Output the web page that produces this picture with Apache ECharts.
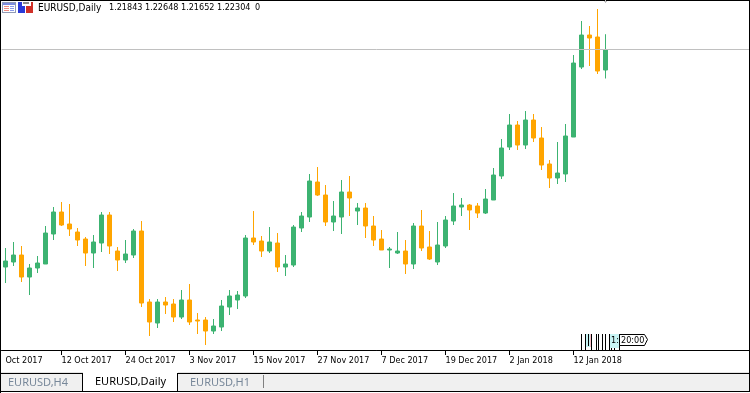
<!DOCTYPE html>
<html><head><meta charset="utf-8">
<style>html,body{margin:0;padding:0;background:#fff}#c{width:750px;height:393px}</style>
<script src="https://cdn.jsdelivr.net/npm/echarts@6/dist/echarts.min.js"></script>
</head><body><div id="c"></div>
<script>
const opens=[1.17410,1.17523,1.17680,1.17185,1.17388,1.17478,1.18153,1.18648,1.18378,1.18198,1.18040,1.17725,1.17950,1.18580,1.17770,1.17568,1.17680,1.18220,1.16623,1.16150,1.16623,1.16578,1.16285,1.16668,1.16218,1.16218,1.15970,1.16060,1.16510,1.16668,1.16758,1.18063,1.17995,1.17770,1.17950,1.17410,1.17455,1.18288,1.18535,1.19323,1.19030,1.18423,1.18535,1.19098,1.18670,1.18738,1.18333,1.18040,1.17793,1.17725,1.17770,1.17478,1.18333,1.17860,1.17523,1.17883,1.18445,1.18760,1.18805,1.18783,1.18625,1.18918,1.19458,1.20110,1.20605,1.20155,1.20718,1.20313,1.19728,1.19413,1.19503,1.20335,1.21910,1.22630,1.22585,1.21843];
const closes=[1.17545,1.17680,1.17185,1.17388,1.17500,1.18175,1.18648,1.18355,1.18265,1.18018,1.17725,1.17973,1.18580,1.17883,1.17568,1.17703,1.18220,1.16600,1.16173,1.16623,1.16555,1.16285,1.16668,1.16173,1.16195,1.15970,1.16083,1.16533,1.16758,1.16780,1.18063,1.17973,1.17770,1.17973,1.17410,1.17478,1.18310,1.18558,1.19345,1.19030,1.18423,1.18558,1.19098,1.18963,1.18738,1.18333,1.18018,1.17793,1.17815,1.17770,1.17478,1.18333,1.17838,1.17590,1.17905,1.18468,1.18783,1.18805,1.18693,1.18625,1.18940,1.19480,1.20088,1.20605,1.20155,1.20718,1.20313,1.19705,1.19413,1.19525,1.20358,1.22000,1.22630,1.22563,1.21820,1.22304];
const lows=[1.17050,1.17433,1.17073,1.16780,1.17275,1.17478,1.18018,1.18333,1.18108,1.17883,1.17433,1.17388,1.17748,1.17703,1.17320,1.17500,1.17613,1.16510,1.15858,1.16038,1.16353,1.16173,1.16240,1.16105,1.15903,1.15655,1.15903,1.15970,1.16330,1.16465,1.16713,1.17905,1.17635,1.17725,1.17298,1.17208,1.17410,1.18198,1.18423,1.19008,1.18333,1.18220,1.18153,1.18558,1.18355,1.18063,1.17883,1.17793,1.17388,1.17703,1.17253,1.17365,1.17770,1.17568,1.17455,1.17838,1.18355,1.18558,1.18243,1.18513,1.18603,1.18918,1.19390,1.20043,1.20043,1.20065,1.20223,1.19593,1.19188,1.19278,1.19323,1.20335,1.21865,1.21933,1.21753,1.21652];
const highs=[1.17838,1.17973,1.17883,1.17478,1.17658,1.18333,1.18760,1.18873,1.18828,1.18288,1.18085,1.18130,1.18648,1.18648,1.17860,1.18018,1.18265,1.18445,1.16690,1.16690,1.16735,1.16690,1.16893,1.17028,1.16375,1.16285,1.16240,1.16668,1.16893,1.16870,1.18130,1.18670,1.18108,1.18310,1.18175,1.17680,1.18355,1.18648,1.19503,1.19660,1.19255,1.18895,1.19368,1.19458,1.18850,1.18850,1.18558,1.18243,1.17860,1.18198,1.18018,1.18400,1.18693,1.18220,1.18423,1.18558,1.19075,1.18963,1.18828,1.18850,1.19165,1.19638,1.20290,1.20853,1.20695,1.20920,1.20853,1.20560,1.19818,1.20223,1.20628,1.22180,1.22945,1.22833,1.23215,1.22648];
const tickIndexes=[7,15,23,31,39,47,55,63,71];
const tickLabels=['12 Oct 2017','24 Oct 2017','3 Nov 2017','15 Nov 2017','27 Nov 2017','7 Dec 2017','19 Dec 2017','2 Jan 2018','12 Jan 2018'];
const firstLabel='Oct 2017';
const symbol='EURUSD,Daily';
const ohlcText=['1.21843','1.22648','1.21652','1.22304'];
const tabs=['EURUSD,H4','EURUSD,Daily','EURUSD,H1'];
const lastClose=1.22304, slotCount=94, priceMin=1.15543, priceMax=1.23418;

const categories=Array.from({length:slotCount},(_,i)=>i===0?firstLabel:(tickIndexes.includes(i)?tickLabels[tickIndexes.indexOf(i)]:''));
const rows=opens.map((o,i)=>[o,closes[i],lows[i],highs[i]]);
const F='"DejaVu Sans Condensed","DejaVu Sans",sans-serif';
const T='"Noto Sans",sans-serif';
const rect=(x,y,w,h,fill,z)=>({type:'rect',silent:true,z:z||10,shape:{x,y,width:w,height:h},style:{fill}});
const txt=(x,y,t,size,fill,font,z)=>({type:'text',silent:true,z:z||11,x,y,style:{text:t,fill,font:size+'px '+font,textVerticalAlign:'middle',textAlign:'left'}});
const g=[
 rect(0,0,750,1,'#000'),rect(0,0,1,393,'#000'),rect(749,0,1,392,'#000'),
 rect(2,2,14,11,'#8f9ab5'),rect(3,3,12,9,'#fff'),rect(3,3,12,2,'#7c8ce0'),
 rect(4,6,5,1,'#f08a80'),rect(4,8,5,1,'#f08a80'),rect(4,10,5,1,'#f08a80'),rect(10,6,4,1,'#8a9ae8'),rect(10,8,4,1,'#8a9ae8'),rect(10,10,4,1,'#8a9ae8'),
 rect(18,2,7,11,'#2a3ad8'),rect(26,2,7,11,'#d03028'),rect(22,2,9,4,'#fff'),rect(23,2,6,2,'#8a8a8a'),
 txt(38,8,symbol,10,'#000',F),
 txt(109,8,ohlcText[0],9,'#000',F),txt(145,8,ohlcText[1],9,'#000',F),txt(181,8,ohlcText[2],9,'#000',F),txt(217,8,ohlcText[3],9,'#000',F),txt(255,8,'0',9,'#000',F),
 rect(605,0,1,3,'#c0c0c0'),rect(604,1,3,1,'#c0c0c0'),
 rect(586,334,4,13,'#c8f4f4'),rect(590,334,1,13,'#f8c0c8'),rect(610,334,9,14,'#c8f4f4'),
 rect(581,334,1,16,'#000'),rect(585,334,1,16,'#000'),rect(588,334,1,12,'#000'),rect(591,334,1,16,'#000'),rect(596,334,1,16,'#000'),rect(598,334,1,16,'#000'),rect(602,334,1,16,'#000'),rect(605,334,1,16,'#000'),
 rect(609,334,1,16,'#000'),rect(619,334,1,16,'#000'),rect(611,348,1,2,'#000'),rect(614,348,1,2,'#000'),
 txt(611,340.5,'1:',9,'#000',F),
 {type:'polygon',silent:true,z:10,shape:{points:[[619.5,334.5],[644.5,334.5],[647.5,339.5],[644.5,345.5],[619.5,345.5]]},style:{fill:'#fff',stroke:'#000',lineWidth:1}},
 txt(621,340.5,'20:00',9,'#000',F),
 rect(1,372,748,1,'#e4e4e4'),rect(1,373,748,18,'#f0f0f0'),
 rect(1,373,82,1,'#000'),rect(82,373,1,18,'#000'),rect(83,372,95,19,'#fff'),
 rect(177,373,1,18,'#000'),rect(178,373,571,1,'#000'),rect(0,391,750,1,'#000'),
 rect(263,375,1,13,'#808080'),
 txt(8,383,tabs[0],11,'#78889a',T),txt(95,382,tabs[1],11,'#000',T),txt(190,383,tabs[2],11,'#78889a',T)
];
const chart=echarts.init(document.getElementById('c'),null,{renderer:'canvas'});
chart.setOption({
 animation:false,backgroundColor:'#fff',
 grid:{left:1.5,top:0,width:slotCount*8,height:350,containLabel:false,outerBoundsMode:'none'},
 xAxis:{type:'category',data:categories,boundaryGap:true,
  axisLine:{lineStyle:{color:'#000',width:1},onZero:false},
  axisTick:{show:true,length:5,alignWithLabel:true,lineStyle:{color:'#000',width:1},customValues:tickIndexes},
  axisLabel:{show:true,interval:(i)=>i===0||tickIndexes.includes(i),align:'left',margin:6,color:'#000',fontSize:9,fontFamily:F},
  splitLine:{show:false}},
 yAxis:{type:'value',min:priceMin,max:priceMax,show:false,splitLine:{show:false}},
 series:[
  {type:'line',data:[],silent:true,z:1,symbol:'none',
   markLine:{silent:true,symbol:'none',precision:5,label:{show:false},lineStyle:{color:'#c0c0c0',width:1,type:'solid'},animation:false,data:[{yAxis:lastClose}]}},
  {type:'candlestick',z:3,data:rows,barWidth:4,
   itemStyle:{color:'#3CB371',color0:'#FFA500',borderColor:'#3CB371',borderColor0:'#FFA500',borderWidth:1}},
  {type:'custom',silent:true,z:6,clip:false,data:tickIndexes.map(i=>[i]),encode:{x:0},
   renderItem:(p,api)=>{const c=api.coord([api.value(0),priceMin]);
    return {type:'line',shape:{x1:Math.floor(c[0])+.5,y1:c[1],x2:Math.floor(c[0])+.5,y2:c[1]+5},style:{stroke:'#000',lineWidth:1}};}}],
 graphic:{elements:g}
});
</script></body></html>
